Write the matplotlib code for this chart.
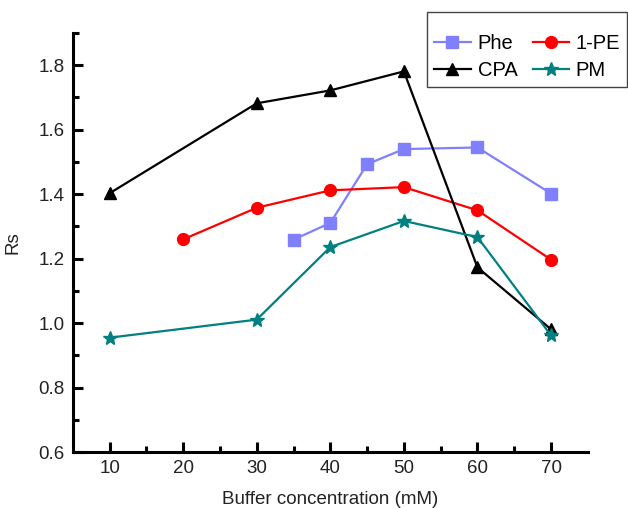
"""Rs vs buffer concentration chart
"""

import matplotlib
matplotlib.use("Agg")
from matplotlib import pyplot as plt

plt.rcParams['font.family'] = ['Liberation Sans', 'DejaVu Sans']

# data
phe_x = [35, 40, 45, 50, 60, 70]
phe_y = [1.259, 1.311, 1.493, 1.540, 1.545, 1.402]

pe_x = [20, 30, 40, 50, 60, 70]
pe_y = [1.260, 1.358, 1.412, 1.422, 1.350, 1.197]

cpa_x = [10, 30, 40, 50, 60, 70]
cpa_y = [1.403, 1.682, 1.722, 1.781, 1.173, 0.981]

pm_x = [10, 30, 40, 50, 60, 70]
pm_y = [0.955, 1.011, 1.236, 1.317, 1.267, 0.962]

x_ticks = [10, 20, 30, 40, 50, 60, 70]
y_ticks = [0.6, 0.8, 1.0, 1.2, 1.4, 1.6, 1.8]

fig = plt.figure(figsize=(6.28, 5.08), dpi=100)
ax = fig.add_axes([0.116, 0.110, 0.820, 0.825])

lw = 1.6
l_phe, = ax.plot(phe_x, phe_y, '-s', color='#8080ff', lw=lw, ms=8, label='Phe')
l_pe, = ax.plot(pe_x, pe_y, '-o', color='#ff0000', lw=lw, ms=8.5, label='1-PE')
l_cpa, = ax.plot(cpa_x, cpa_y, '-^', color='#000000', lw=lw, ms=8.5, label='CPA')
l_pm, = ax.plot(pm_x, pm_y, '-*', color='#008080', lw=lw, ms=10, label='PM')

ax.set_xlim(5, 75)
ax.set_ylim(0.6, 1.9)
ax.set_xticks(x_ticks)
ax.set_yticks(y_ticks)
ax.set_xticks(range(15, 75, 10), minor=True)
ax.set_yticks([0.7, 0.9, 1.1, 1.3, 1.5, 1.7, 1.9], minor=True)
ax.set_yticklabels([f"{v:.1f}" for v in y_ticks])

# only left and bottom axes, ticks pointing in
for side in ['top', 'right']:
    ax.spines[side].set_visible(False)
for side in ['left', 'bottom']:
    ax.spines[side].set_linewidth(2.2)
ax.tick_params(which='major', direction='in', length=7, width=2.2,
               labelsize=13.5, colors='#222222', pad=6)
ax.tick_params(which='minor', direction='in', length=4, width=2.2)
ax.tick_params(axis='both', which='both', color='black')

ax.set_xlabel('Buffer concentration (mM)', fontsize=13.5, color='#222222', labelpad=10)
ax.set_ylabel('Rs', fontsize=13.5, color='#222222', labelpad=12)

# legend fills column-wise: order so rows read Phe, 1-PE / CPA, PM
# (blank tiny title gives the extra space above the first row)
handles = [l_phe, l_cpa, l_pe, l_pm]
leg = ax.legend(handles, [h.get_label() for h in handles], ncol=2,
                loc='upper right', bbox_to_anchor=(0.999, 0.976),
                bbox_transform=fig.transFigure, borderaxespad=0,
                fontsize=14.5, fancybox=False, title=' ', title_fontsize=5,
                edgecolor='#444444', framealpha=1, handlelength=1.8,
                handletextpad=0.35, columnspacing=0.75, labelspacing=0.4,
                borderpad=0.35)
leg.get_frame().set_linewidth(1.0)

fig.savefig('out.png', dpi=100)
